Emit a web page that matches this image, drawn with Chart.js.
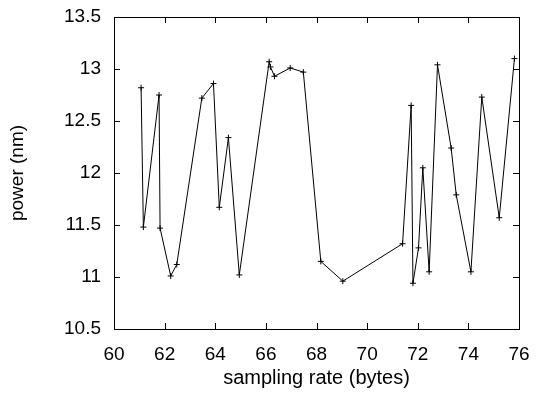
<!DOCTYPE html>
<html>
<head>
<meta charset="utf-8">
<script src="https://cdn.jsdelivr.net/npm/chart.js@4.4.1/dist/chart.umd.min.js"></script>
<style>
  html, body { margin: 0; padding: 0; background: #fff; }
  #wrap { width: 536px; height: 394px; }
</style>
</head>
<body>
<div id="wrap"><canvas id="chart" width="536" height="394"></canvas></div>
<script>
// sampling rate (bytes)
const rates = [61.07, 61.16, 61.78, 61.82, 62.24, 62.48, 63.47, 63.93, 64.16, 64.52,
               64.95, 66.13, 66.18, 66.34, 66.96, 67.48, 68.17, 69.04, 71.40, 71.74,
               71.81, 72.03, 72.20, 72.45, 72.78, 73.32, 73.52, 74.10, 74.53, 75.22, 75.82];
// power (nm)
const power = [12.82, 11.48, 12.75, 11.47, 11.01, 11.12, 12.72, 12.86, 11.67, 12.34,
               11.02, 13.07, 13.02, 12.93, 13.01, 12.97, 11.15, 10.96, 11.32, 12.65,
               10.94, 11.28, 12.05, 11.05, 13.04, 12.24, 11.79, 11.05, 12.73, 11.57, 13.10];

const xRange = [60, 76, 2];
const yRange = [10.5, 13.5, 0.5];

const points = rates.map((x, i) => ({x: x, y: power[i]}));

// gnuplot-style frame with inward ticks on all four sides
const frame = {
  id: 'frame',
  afterDraw(chart) {
    const {ctx, chartArea: a, scales} = chart;
    const len = 6;
    ctx.save();
    ctx.strokeStyle = '#000';
    ctx.lineWidth = 1;
    ctx.beginPath();
    scales.x.ticks.forEach(t => {
      const px = Math.round(scales.x.getPixelForValue(t.value)) + 0.5;
      ctx.moveTo(px, a.bottom); ctx.lineTo(px, a.bottom - len);
      ctx.moveTo(px, a.top); ctx.lineTo(px, a.top + len);
    });
    scales.y.ticks.forEach(t => {
      const py = Math.round(scales.y.getPixelForValue(t.value)) + 0.5;
      ctx.moveTo(a.left, py); ctx.lineTo(a.left + len, py);
      ctx.moveTo(a.right, py); ctx.lineTo(a.right - len, py);
    });
    ctx.stroke();
    ctx.strokeRect(Math.round(a.left) + 0.5, Math.round(a.top) + 0.5,
                   Math.round(a.right - a.left), Math.round(a.bottom - a.top));
    ctx.restore();
  }
};

Chart.defaults.font.family = '"Liberation Sans", Arial, sans-serif';
Chart.defaults.font.size = 19;
Chart.defaults.color = '#000';

new Chart(document.getElementById('chart'), {
  type: 'scatter',
  data: {
    datasets: [{
      data: points,
      showLine: true,
      borderColor: '#000',
      borderWidth: 1,
      pointStyle: 'cross',
      pointRadius: 3,
      pointBorderColor: '#000',
      pointBorderWidth: 1
    }]
  },
  options: {
    responsive: false,
    animation: false,
    layout: { padding: { top: 17, right: 17, left: 0, bottom: 0 } },
    plugins: { legend: { display: false }, tooltip: { enabled: false } },
    scales: {
      x: {
        type: 'linear',
        min: xRange[0], max: xRange[1],
        ticks: { stepSize: xRange[2], padding: 14, maxRotation: 0 },
        grid: { display: false, drawTicks: false },
        border: { display: false },
        title: { display: true, text: 'sampling rate (bytes)', font: { size: 20 }, padding: { top: 0, bottom: 4 } },
        afterFit(s) { s.height = 65; s.paddingLeft = 0; s.paddingRight = 0; }
      },
      y: {
        type: 'linear',
        min: yRange[0], max: yRange[1],
        ticks: { stepSize: yRange[2], padding: 13, callback: v => String(+v.toFixed(1)) },
        grid: { display: false, drawTicks: false },
        border: { display: false },
        title: { display: true, text: 'power (nm)', padding: { top: 6, bottom: 0 } },
        afterFit(s) { s.width = 114; s.paddingTop = 0; s.paddingBottom = 0; }
      }
    }
  },
  plugins: [frame]
});
</script>
</body>
</html>
